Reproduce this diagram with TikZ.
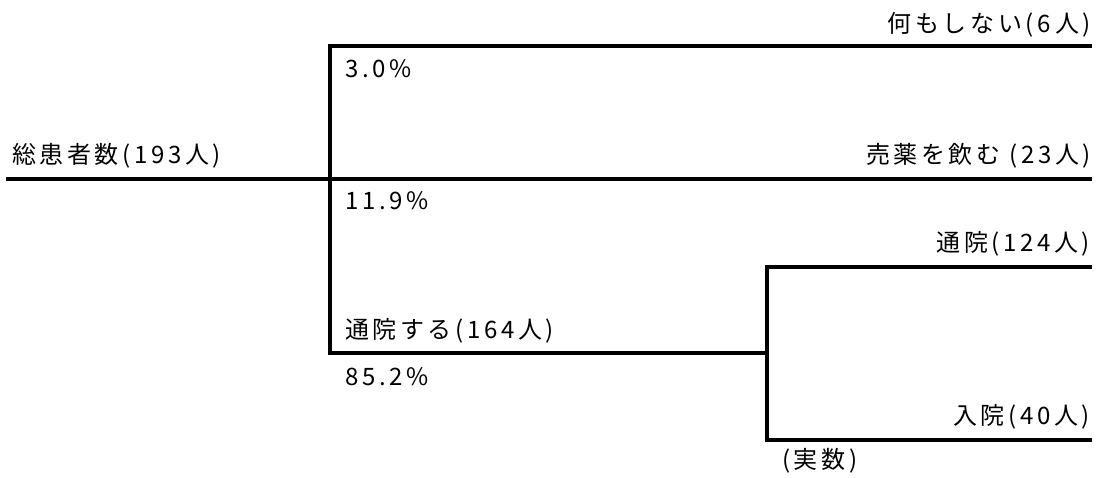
\documentclass[tikz,border=0pt]{standalone}
\usepackage{fontspec}
\setmainfont[LetterSpace=15]{Noto Sans CJK JP}
\begin{document}
\begin{tikzpicture}[x=1pt,y=-1pt,
  branch/.style={line width=3.2pt,line cap=rect},
  lbl/.style={inner sep=0pt,font=\fontsize{24}{24}\selectfont},
  rlbl/.style={lbl,anchor=east},
  llbl/.style={lbl,anchor=west}]
\useasboundingbox (0,0) rectangle (1101,477);
% junction coordinates
\coordinate (start) at (8,179);
\coordinate (j1) at (330,179);
\coordinate (j1top) at (330,46);
\coordinate (j1bot) at (330,353);
\coordinate (e1) at (1090,46);
\coordinate (e2) at (1090,179);
\coordinate (j2) at (767,353);
\coordinate (j2top) at (767,267);
\coordinate (j2bot) at (767,440);
\coordinate (e3) at (1090,267);
\coordinate (e4) at (1090,440);
% connectors
\draw[branch] (start) -- (j1) -- (e2);
\draw[branch] (e1) -- (j1top) -- (j1bot) -- (j2);
\draw[branch] (e3) -- (j2top) -- (j2bot) -- (e4);
% labels
\node[llbl] (total) at (12,156) {総患者数(193人)};
\node[llbl] (p1) at (345,69) {3.0\%};
\node[rlbl] (nothing) at (1091,25) {何もしない(\,6\,人)};
\node[rlbl] (drug) at (1091,156) {売薬を飲む (23人)};
\node[llbl] (p2) at (345,201) {11.9\%};
\node[rlbl] (outpat) at (1090,244) {通院(124人)};
\node[llbl] (visit) at (345,331) {通院する(164人)};
\node[llbl] (p3) at (345,377) {85.2\%};
\node[rlbl] (inpat) at (1090,417) {入院(40人)};
\node[llbl] (actual) at (782,461) {(実数)};
\end{tikzpicture}
\end{document}
